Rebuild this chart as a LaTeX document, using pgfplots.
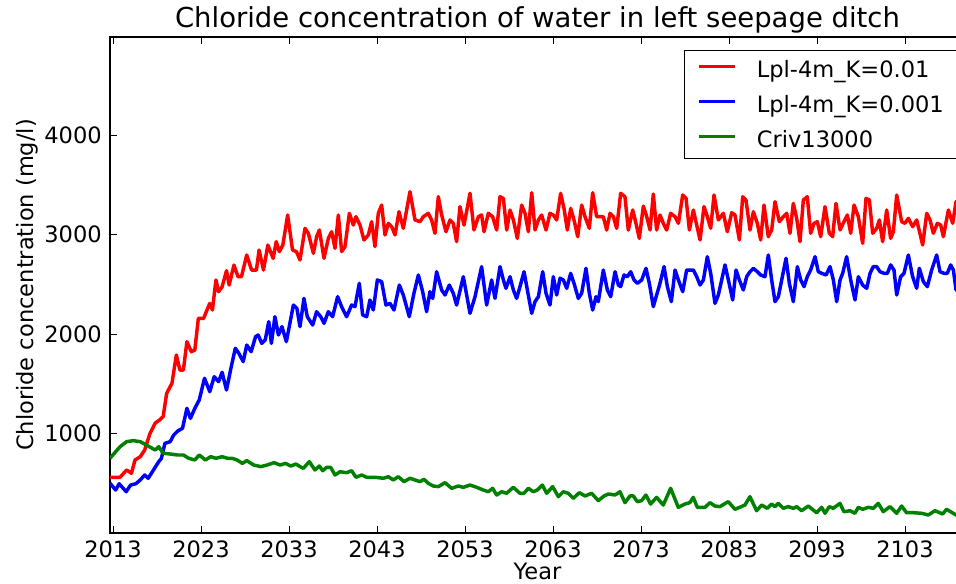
\documentclass[border=0pt]{standalone}
\usepackage{fontspec}
\setmainfont{DejaVu Sans}
\usepackage{pgfplots}
\pgfplotsset{compat=1.18}
\definecolor{mplgreen}{rgb}{0,0.5,0}
\newcommand{\tfont}{\fontsize{16.9}{20}\selectfont}
\begin{document}
\begin{tikzpicture}
\begin{axis}[
  name=ax,
  scale only axis, width=641.25pt, height=372pt,
  xmin=2012.66, xmax=2109.82, ymin=0, ymax=4985,
  xtick={2013,2023,...,2103}, ytick={1000,2000,3000,4000},
  scaled ticks=false,
  tick align=inside, major tick length=5.6pt,
  every tick/.style={black, line width=0.7pt},
  axis line style={black, line width=1pt},
  /pgf/number format/assume math mode=true,
  /pgf/number format/1000 sep={},
  tick label style={font=\tfont},
  xticklabel style={anchor=north, inner sep=0pt, yshift=-6pt},
  yticklabel style={anchor=east, inner sep=0pt, xshift=-6pt},
  title={Chloride concentration of water in left seepage ditch},
  title style={at={(0.5,1)}, anchor=base, inner sep=0pt, yshift=0.75pt, font=\fontsize{20.6}{24}\selectfont},
  xlabel={Year},
  xlabel style={at={(axis description cs:0.5,-0.0605)}, anchor=north, inner sep=0pt, font=\tfont},
  ylabel={Chloride concentration (mg/l)},
  ylabel style={at={(axis description cs:-0.0842,0.5)}, anchor=south, inner sep=0pt, font=\tfont},
  legend cell align=left,
  legend image code/.code={\draw[#1] (0pt,1.8pt) -- (27pt,1.8pt);},
  legend style={at={(1,1)}, anchor=north east, xshift=-6pt, yshift=-9.5pt,
    draw=black, line width=0.75pt, font=\tfont,
    inner xsep=9.5pt, inner ysep=4pt, row sep=5.75pt, column sep=15pt,
    nodes={inner sep=0pt, text height=16.8pt, text depth=3.7pt}},
]
\addplot[red, line width=2.6pt, line join=round] coordinates {
(2012.66,560)(2013.8,560)(2014.55,633)(2015.1,600)(2015.5,733)(2016.1,767)(2016.6,834)(2017.2,1000)(2017.8,1105)(2018.3,1136)(2018.7,1170)(2019.1,1404)(2019.7,1504)(2020.2,1789)(2020.6,1638)(2021.0,1638)(2021.4,1923)(2021.9,1822)(2022.3,1840)(2022.7,2157)(2023.3,2157)(2023.6,2224)(2024.0,2308)(2024.3,2241)(2024.7,2543)(2025.0,2425)(2025.4,2475)(2025.9,2636)(2026.2,2492)(2026.75,2693)(2027.2,2576)(2027.6,2576)(2028.2,2794)(2028.75,2643)(2029.3,2643)(2029.6,2844)(2030.1,2643)(2030.6,2894)(2031.2,2760)(2031.55,2928)(2031.9,2827)(2032.3,2894)(2032.85,3196)(2033.4,2844)(2033.85,2827)
(2034.25,2744)(2034.82,3062)(2035.2,3012)(2035.77,2811)(2036.14,2978)(2036.45,3045)(2036.98,2761)(2037.47,2961)(2037.85,3028)(2038.23,2861)(2038.61,3196)(2038.98,2828)(2039.36,2878)(2039.86,3213)(2040.31,3095)(2040.61,3179)(2041.07,3095)(2041.52,2945)(2042.02,2995)(2042.39,3129)(2042.77,2878)(2043.15,3213)(2043.53,3296)(2043.91,2995)(2044.29,3112)(2044.67,3079)(2045.05,2995)(2045.5,3229)(2045.99,3062)(2046.75,3431)(2047.32,3146)(2047.89,3129)(2048.27,3179)(2048.83,3213)(2049.21,3146)(2049.59,3012)(2049.97,3380)(2050.35,3196)(2050.84,3028)(2051.3,3146)(2051.67,3112)(2052.05,2928)(2052.43,3280)(2052.89,3095)(2053.57,3414)(2054.02,3045)(2054.52,3179)(2054.89,3196)(2055.16,3028)(2055.65,3213)(2056.14,3179)(2056.6,3045)
(2056.98,3380)(2057.36,3363)(2057.74,3045)(2058.12,3246)(2058.5,3146)(2058.95,2961)(2059.44,3296)(2059.82,3213)(2060.2,3028)(2060.58,3420)(2060.96,3045)(2061.34,3146)(2061.71,3196)(2062.21,3045)(2062.66,3213)(2063.04,3196)(2063.42,3146)(2063.87,3414)(2064.25,3263)(2064.63,3045)(2065.01,3263)(2065.39,3146)(2065.81,2978)(2066.26,3296)(2066.64,3179)(2067.13,3062)(2067.51,3420)(2067.96,3179)(2068.34,3179)(2068.72,3179)(2069.1,3045)(2069.48,3213)(2069.86,3179)(2070.24,3062)(2070.69,3414)(2071.18,3380)(2071.56,3045)(2072.06,3246)(2072.43,3112)(2072.81,2961)(2073.27,3286)(2073.65,3179)(2074.03,3045)(2074.4,3407)(2074.78,3045)(2075.16,3196)(2075.54,3112)(2075.92,3045)(2076.37,3213)(2076.87,3179)(2077.25,3112)(2077.74,3397)(2078.12,3363)(2078.5,3045)(2078.95,3246)(2079.33,3095)(2079.71,2945)(2080.16,3280)(2080.54,3179)(2080.92,3062)(2081.3,3397)(2081.79,3146)
(2082.36,3213)(2082.81,3028)(2083.31,3219)(2083.68,3196)(2084.18,2945)(2084.56,3380)(2084.93,3347)(2085.39,3045)(2085.77,3229)(2086.22,3112)(2086.6,2945)(2086.98,3296)(2087.47,2978)(2087.85,3045)(2088.23,3330)(2088.72,3129)(2089.18,3179)(2089.56,3213)(2089.93,3012)(2090.31,3313)(2090.69,3163)(2091.07,2928)(2091.45,3347)(2091.9,3380)(2092.28,3012)(2092.66,3112)(2093.04,3129)(2093.42,2978)(2093.91,3280)(2094.4,3012)(2094.78,2978)(2095.16,3313)(2095.62,3045)(2096.07,3129)(2096.45,3196)(2096.83,3012)(2097.21,3296)(2097.7,3179)(2098.19,2911)(2098.57,3363)(2098.95,3347)(2099.33,3012)(2099.78,3062)(2100.09,3146)(2100.46,2928)(2100.92,3246)(2101.37,2961)(2101.68,3028)(2102.06,3397)(2102.62,3129)(2103.0,3112)(2103.38,3163)(2103.87,3079)(2104.33,3146)(2105.01,2895)(2105.47,3213)(2105.85,3146)(2106.22,3012)(2106.68,3112)(2107.06,3095)(2107.36,2978)(2107.93,3246)(2108.42,3112)(2108.8,3330)(2109.3,3300)
};
\addlegendentry{Lpl-4m\_K=0.01}
\addplot[blue, line width=2.6pt, line join=round] coordinates {
(2012.66,500)(2013.3,432)(2013.7,495)(2014.5,415)(2015.0,482)(2015.6,495)(2016.1,533)(2016.6,583)(2017.0,550)(2017.6,633)(2018.2,717)(2018.5,750)(2018.9,901)(2019.5,918)(2019.9,985)(2020.4,1028)(2020.9,1052)(2021.4,1253)(2021.8,1152)(2022.3,1253)(2022.8,1337)(2023.4,1555)(2024.0,1420)(2024.5,1571)(2025.0,1521)(2025.4,1615)(2025.9,1437)(2026.4,1655)(2026.9,1856)(2027.3,1806)(2027.8,1722)(2028.2,1889)(2028.7,1822)(2029.2,1973)(2029.5,1990)(2029.9,1906)(2030.3,1940)(2030.7,2124)(2031.0,1906)(2031.4,2174)(2031.8,1990)(2032.2,2074)(2032.7,1923)(2033.5,2291)(2033.9,2258)
(2034.25,2074)(2034.7,2358)(2035.08,2174)(2035.69,2090)(2036.14,2224)(2036.6,2174)(2036.98,2107)(2037.47,2224)(2037.96,2174)(2038.53,2375)(2038.98,2275)(2039.55,2174)(2040.12,2291)(2040.5,2275)(2040.99,2509)(2041.37,2191)(2041.83,2174)(2042.2,2342)(2042.58,2241)(2043.04,2543)(2043.53,2526)(2044.02,2291)(2044.48,2308)(2044.93,2241)(2045.54,2492)(2045.99,2392)(2046.67,2174)(2047.2,2409)(2047.7,2593)(2048.19,2425)(2048.64,2224)(2049.02,2425)(2049.33,2358)(2049.78,2626)(2050.35,2442)(2050.73,2392)(2051.22,2492)(2051.67,2409)(2052.05,2291)(2052.81,2576)(2053.57,2208)(2054.14,2375)(2054.89,2677)(2055.46,2291)(2056.03,2543)(2056.41,2358)
(2056.98,2677)(2057.36,2543)(2057.66,2459)(2058.12,2576)(2058.5,2442)(2058.87,2358)(2059.25,2476)(2059.71,2626)(2060.09,2442)(2060.58,2208)(2060.96,2325)(2061.34,2375)(2061.83,2626)(2062.21,2409)(2062.66,2291)(2063.04,2576)(2063.42,2392)(2063.8,2560)(2064.18,2543)(2064.56,2459)(2065.01,2610)(2065.39,2509)(2065.88,2358)(2066.26,2409)(2066.75,2660)(2067.13,2409)(2067.51,2241)(2067.89,2375)(2068.15,2325)(2068.72,2643)(2069.18,2442)(2069.56,2375)(2070.05,2626)(2070.43,2492)(2070.69,2476)(2071.07,2593)(2071.45,2576)(2071.83,2626)(2072.21,2543)(2072.59,2509)(2073.08,2543)(2073.57,2660)(2073.95,2509)(2074.4,2275)(2074.78,2392)(2075.16,2509)(2075.62,2677)(2076.0,2476)(2076.45,2325)(2076.87,2643)(2077.25,2543)(2077.74,2425)(2078.19,2643)(2078.57,2643)(2078.95,2643)(2079.33,2576)(2079.71,2492)(2080.09,2543)(2080.54,2777)(2080.92,2610)(2081.41,2308)(2081.79,2392)
(2082.55,2694)(2082.93,2543)(2083.42,2342)(2083.8,2643)(2084.18,2543)(2084.63,2442)(2085.01,2576)(2085.39,2626)(2085.77,2660)(2086.22,2626)(2086.6,2593)(2087.09,2576)(2087.47,2794)(2087.85,2543)(2088.23,2325)(2088.61,2375)(2088.99,2543)(2089.48,2761)(2089.86,2509)(2090.31,2325)(2090.77,2677)(2091.15,2543)(2091.53,2476)(2091.9,2576)(2092.28,2643)(2092.78,2777)(2093.15,2626)(2093.53,2610)(2094.03,2593)(2094.48,2677)(2094.86,2543)(2095.24,2325)(2095.62,2543)(2095.92,2610)(2096.37,2777)(2096.83,2543)(2097.32,2342)(2097.7,2576)(2098.19,2492)(2098.65,2459)(2099.03,2610)(2099.4,2677)(2099.78,2677)(2100.16,2626)(2100.62,2610)(2101.0,2610)(2101.37,2694)(2101.75,2643)(2102.06,2392)(2102.51,2576)(2102.89,2610)(2103.38,2794)(2103.87,2576)(2104.33,2459)(2104.63,2660)(2105.09,2526)(2105.54,2476)(2106.03,2643)(2106.6,2794)(2106.98,2626)(2107.43,2610)(2107.81,2610)(2108.19,2694)(2108.5,2643)(2108.8,2442)(2109.3,2500)
};
\addlegendentry{Lpl-4m\_K=0.001}
\addplot[mplgreen, line width=2.6pt, line join=round] coordinates {
(2012.66,751)(2013.8,867)(2014.55,918)(2015.3,928)(2016.1,918)(2016.8,884)(2017.8,834)(2018.2,867)(2018.7,801)(2019.5,794)(2020.3,784)(2021.0,784)(2021.6,751)(2022.3,734)(2022.8,784)(2023.5,734)(2024.1,767)(2024.7,751)(2025.4,767)(2026.0,751)(2026.5,751)(2027.1,734)(2027.7,700)(2028.2,727)(2029.0,683)(2029.8,667)(2030.5,683)(2031.3,707)(2032.0,683)(2032.6,700)(2033.2,673)(2033.8,693)
(2034.25,667)(2034.63,650)(2035.31,717)(2035.95,633)(2036.45,673)(2036.83,626)(2037.28,660)(2037.73,660)(2038.23,583)(2038.8,616)(2039.55,606)(2040.12,626)(2040.61,560)(2041.26,583)(2041.83,560)(2042.77,560)(2043.72,550)(2044.29,566)(2044.86,533)(2045.42,566)(2046.07,516)(2046.75,550)(2047.32,533)(2047.89,516)(2048.34,540)(2048.83,499)(2049.4,472)(2049.97,466)(2050.73,506)(2051.48,449)(2052.24,472)(2052.81,459)(2053.57,482)(2054.33,459)(2055.08,432)(2055.65,415)(2056.14,449)(2056.6,382)(2057.17,415)(2057.73,399)(2058.49,459)(2059.25,399)(2059.7,399)(2060.2,449)(2060.77,415)(2061.22,432)(2061.79,482)(2062.28,399)(2062.96,466)(2063.61,365)(2064.17,415)(2064.74,399)(2065.31,349)(2065.99,405)(2066.64,372)(2067.39,399)(2068.15,325)(2068.8,372)(2069.29,392)(2070.05,382)
(2070.61,415)(2071.18,305)(2071.75,372)(2072.13,372)(2072.58,315)(2073.07,325)(2073.56,382)(2074.09,291)(2074.78,358)(2075.53,281)(2076.37,449)(2077.24,258)(2077.99,291)(2078.56,305)(2078.94,358)(2079.4,258)(2080.27,258)(2080.84,305)(2081.41,271)(2081.97,265)(2082.92,315)(2083.68,238)(2084.81,281)(2085.38,365)(2086.14,224)(2086.71,281)(2087.35,248)(2087.84,291)(2088.22,265)(2088.6,298)(2089.17,248)(2089.74,265)(2090.31,248)(2090.69,265)(2091.25,224)(2092.01,271)(2092.96,204)(2093.53,258)(2093.91,198)(2094.4,265)(2094.85,248)(2095.61,298)(2096.06,214)(2096.75,224)(2097.31,198)(2097.69,258)(2098.19,238)(2098.83,258)(2099.4,248)(2099.97,298)(2100.53,214)(2101.29,265)(2102.05,198)(2102.62,271)(2103.18,204)(2103.94,204)(2104.89,198)(2105.65,181)(2106.41,224)(2107.28,191)(2107.73,238)(2108.8,181)(2109.3,190)
};
\addlegendentry{Criv13000}
\end{axis}
\pgfresetboundingbox
\path[use as bounding box] ([xshift=-82.5pt,yshift=-38.25pt]ax.south west) rectangle ([xshift=-6.75pt,yshift=27.75pt]ax.north east);
\end{tikzpicture}
\end{document}
